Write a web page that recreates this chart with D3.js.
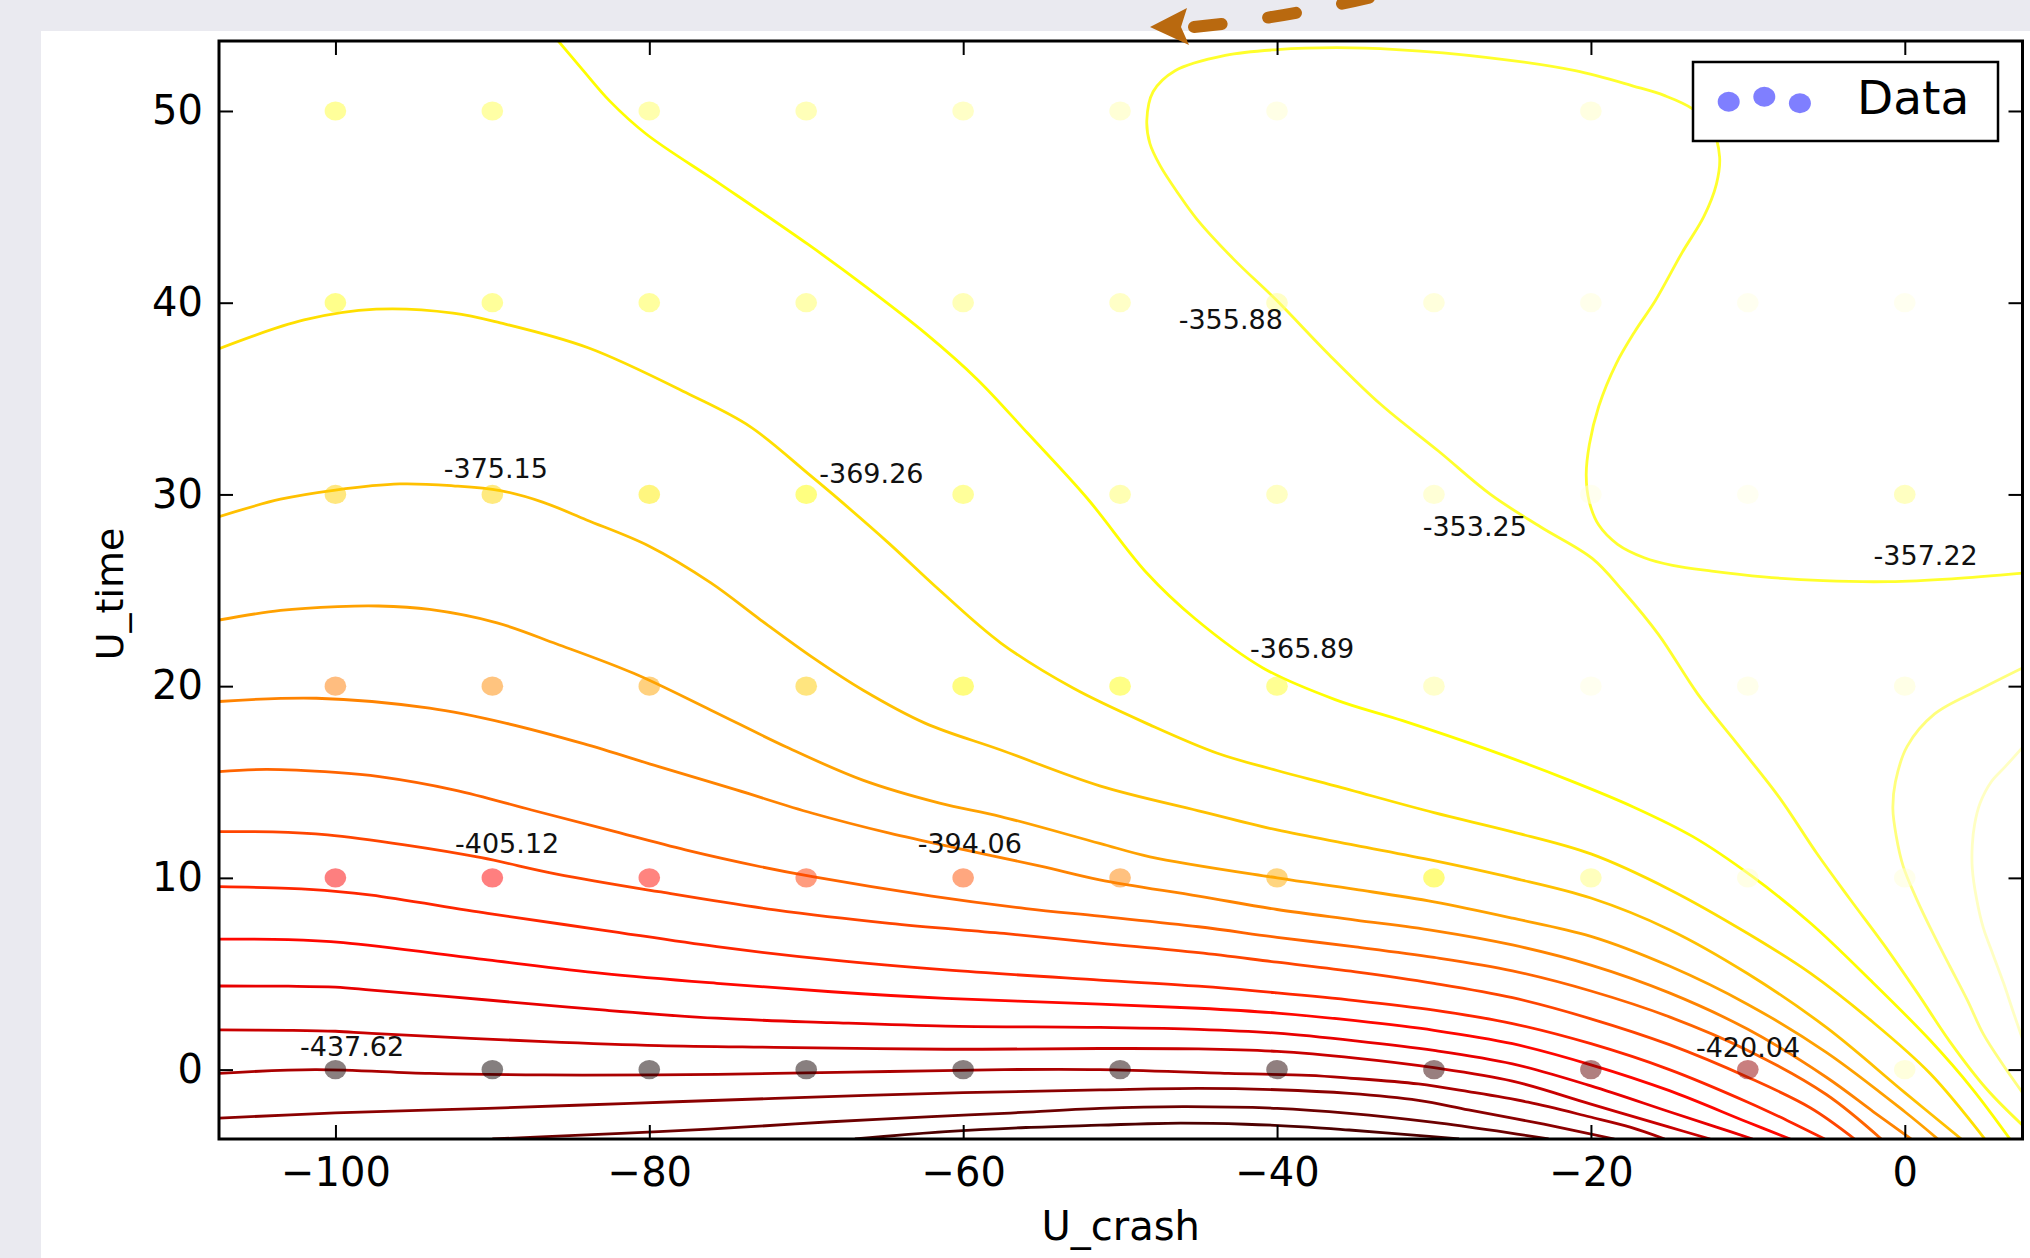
<!DOCTYPE html>
<html><head><meta charset="utf-8">
<script src="https://cdn.jsdelivr.net/npm/d3@7"></script>
<style>body{margin:0;background:#eaeaf0;} svg{display:block}</style>
</head><body><svg id="chart" width="2030" height="1258"></svg>
<script>
// ---------- data ----------
const uCrash = [-100,-90,-80,-70,-60,-50,-40,-30,-20,-10,0];
const uTime = [0,10,20,30,40,50];
const z0  = [-437.62,-439.2,-438.8,-438.4,-438.0,-437.4,-436.0,-433.6,-427.0,-420.04,-352.0];
const z10 = [-405.5,-405.12,-403.7,-397.1,-394.06,-386.8,-381.2,-370.0,-357.9,-350.4,-349.4];
const z20 = [-387.8,-385.9,-382.2,-376.6,-370.0,-368.1,-365.89,-355.1,-348.5,-349.4,-350.4];
const z30 = [-376.0,-375.15,-372.0,-369.26,-364.4,-359.9,-356.9,-353.25,-348.5,-348.0,-357.22];
const z40 = [-367.2,-364.4,-363.5,-360.7,-358.8,-356.0,-355.88,-352.2,-349.4,-348.5,-348.5];
const z50 = [-364.4,-362.5,-360.7,-358.8,-356.0,-353.2,-350.4,-345.7,-351.3,-348.5,-348.5];
const zRows = [z0,z10,z20,z30,z40,z50];

const xTicks = [-100,-80,-60,-40,-20,0];
const yTicks = [0,10,20,30,40,50];

const labelValues = ["-437.62","-420.04","-405.12","-394.06","-375.15","-369.26","-365.89","-355.88","-353.25","-357.22"];
const labelX = [-98.94,-9.99,-89.06,-59.58,-89.78,-65.85,-38.4,-42.95,-27.4,1.33];
const labelY = [1.2,1.15,11.8,11.8,31.37,31.12,21.98,39.14,28.34,26.82];

// contour levels (estimated) and traced contour lines [U_crash, U_time]
const levels = [-429.85,-425.55,-421.25,-416.95,-412.65,-408.35,-404.04,-399.74,-395.44,-391.14,-386.84,-382.54,-378.24,-373.94,-369.64,-365.34,-357.86,-351.31];

const L0 = [[-66.9,-3.62],[-61.1,-3.24],[-56,-3.02],[-51.3,-2.9],[-47,-2.8],[-42,-2.85],[-38,-3.0],[-35.4,-3.15],[-31.5,-3.4],[-28.4,-3.62]];
const L1 = [[-90,-3.62],[-84,-3.4],[-79.4,-3.24],[-73,-2.95],[-68.4,-2.72],[-62,-2.45],[-57.4,-2.28],[-51.3,-2.02],[-46,-1.93],[-40,-2.02],[-35.4,-2.28],[-30,-2.75],[-26,-3.2],[-22.7,-3.62]];
const L2 = [[-107.42,-2.53],[-100,-2.26],[-90.3,-2.02],[-81.2,-1.76],[-72,-1.5],[-60,-1.2],[-51.3,-1.06],[-45,-0.98],[-40,-1.05],[-35.4,-1.24],[-31,-1.6],[-27.8,-2.1],[-23,-2.85],[-18.5,-3.62]];
const L3 = [[-107.42,-0.2],[-101.3,0.0],[-94,-0.2],[-86.7,-0.28],[-79.4,-0.28],[-72,-0.2],[-64.7,-0.1],[-57.4,0],[-51.3,0.0],[-43.1,-0.2],[-38,-0.3],[-35.4,-0.44],[-31,-0.75],[-27.8,-1.15],[-24,-1.7],[-20.1,-2.46],[-17.5,-3.0],[-15.3,-3.62]];
const L4 = [[-107.42,2.07],[-103,2.05],[-100,2.0],[-97.7,1.89],[-86.7,1.46],[-79.4,1.25],[-72,1.16],[-61.1,1.06],[-51.3,1.1],[-45,1.08],[-40,0.95],[-35,0.6],[-30,0.1],[-25,-0.6],[-20,-1.8],[-15,-3.0],[-12.4,-3.62]];
const L5 = [[-107.42,4.36],[-103,4.35],[-100,4.3],[-97.7,4.15],[-90.3,3.63],[-83,3.11],[-75.7,2.68],[-68.4,2.45],[-61.1,2.27],[-51.3,2.2],[-45,2.1],[-40,1.9],[-35,1.5],[-30,1.0],[-25,0.3],[-20,-0.85],[-15,-2.2],[-12,-3.0],[-9.7,-3.62]];
const L6 = [[-107.42,6.8],[-103,6.78],[-99.5,6.62],[-90.3,5.72],[-83,5.02],[-75.7,4.5],[-68.4,4.06],[-61.1,3.72],[-51.3,3.42],[-45,3.2],[-40,2.95],[-35,2.55],[-30,2.05],[-25,1.35],[-20,0.25],[-15,-1.1],[-10,-2.75],[-7.3,-3.62]];
const L7 = [[-107.42,9.54],[-103,9.45],[-100,9.3],[-97.7,9.1],[-90.3,8.15],[-83,7.28],[-75.7,6.41],[-68.4,5.72],[-61.1,5.2],[-51.3,4.67],[-45,4.35],[-40,4.0],[-35,3.6],[-30,3.1],[-25,2.4],[-20,1.35],[-15,0.0],[-10,-1.7],[-7.5,-2.65],[-5.1,-3.62]];
const L8 = [[-107.42,12.41],[-104,12.4],[-100.5,12.24],[-95.6,11.72],[-90.7,11.05],[-85.9,10.2],[-79.4,9.28],[-72,8.33],[-64.7,7.63],[-57.4,7.1],[-51.3,6.6],[-45,6.1],[-40,5.6],[-35,5.1],[-30,4.5],[-25,3.75],[-20,2.65],[-15,1.3],[-10,-0.4],[-6,-2.0],[-3.2,-3.62]];
const L9 = [[-107.42,15.54],[-104.4,15.66],[-100,15.5],[-97.2,15.28],[-92.4,14.58],[-87.5,13.54],[-82.6,12.5],[-77.7,11.46],[-72.9,10.58],[-69.6,10.06],[-62,9.05],[-56,8.4],[-51.3,8.0],[-45,7.45],[-40,6.9],[-35,6.4],[-30,5.85],[-25,5.15],[-20,4.1],[-15,2.75],[-10,1.0],[-5,-1.3],[-1.5,-3.62]];
const L10 = [[-107.42,19.2],[-101.2,19.37],[-94,18.85],[-89.1,18.06],[-84.2,17.0],[-79.4,15.8],[-74.5,14.6],[-69.6,13.37],[-64.7,12.33],[-59.9,11.46],[-55,10.6],[-51.3,9.9],[-45,9.05],[-40,8.35],[-35,7.8],[-30,7.25],[-25,6.5],[-20,5.45],[-15,4.0],[-10,2.1],[-5,-0.4],[-2,-2.2],[0.4,-3.62]];
const L11 = [[-107.42,23.45],[-103.5,23.95],[-99.85,24.15],[-97.25,24.18],[-94.0,24.0],[-89.7,23.3],[-85.9,22.2],[-81.0,20.67],[-76.1,18.76],[-71.3,16.84],[-66.4,15.1],[-61.5,13.9],[-57.6,13.2],[-51.3,11.8],[-48.1,11.1],[-40,10.0],[-35,9.4],[-30,8.75],[-25,7.9],[-20,6.95],[-15,5.4],[-10,3.4],[-5,0.9],[0,-2.2],[2.1,-3.62]];
const L12 = [[-107.42,28.84],[-103.5,29.75],[-100,30.23],[-95.9,30.55],[-92.5,30.45],[-89.5,30.2],[-86.8,29.6],[-84,28.67],[-80.0,27.3],[-76.1,25.4],[-72.9,23.45],[-69.6,21.5],[-66.4,19.8],[-62.4,18.06],[-57.6,16.67],[-51.3,14.8],[-45,13.5],[-40,12.5],[-35,11.7],[-30,10.9],[-25,10.0],[-20,8.95],[-15,7.3],[-10,5.0],[-5,2.2],[0,-1.2],[3.6,-3.62]];
const L13 = [[-107.42,37.6],[-102,39.1],[-97.4,39.66],[-92.5,39.46],[-89.5,38.95],[-83.9,37.65],[-77.4,35.2],[-73.6,33.55],[-69.9,31.1],[-68.3,30.0],[-64.8,27.5],[-61.5,25.0],[-57.6,22.25],[-53,19.9],[-48.1,17.98],[-43.8,16.5],[-40,15.6],[-36.3,14.8],[-30,13.4],[-25,12.4],[-20,11.25],[-15,9.4],[-10,7.1],[-6.0,5.02],[-2.2,2.59],[1.6,-0.19],[5.1,-3.62]];
const L14 = [[-85.8,53.65],[-84.3,52.2],[-82.5,50.5],[-80.2,48.8],[-75.5,46.2],[-69.9,43.05],[-66.15,40.8],[-62.4,38.4],[-59.1,36.0],[-55.9,33.2],[-52.1,29.8],[-48.3,25.9],[-45.2,23.5],[-40.9,20.95],[-36.3,19.3],[-32,18.2],[-26.6,16.7],[-21.4,15.1],[-17.3,13.7],[-13.5,12.15],[-9.7,10.06],[-6.0,7.63],[-2.2,4.67],[1.6,1.54],[4.3,-1.0],[6.7,-3.62]];
const L15 = [[7.5,25.9],[3,25.6],[-1,25.45],[-5.2,25.5],[-9,25.7],[-12.3,26.0],[-14.8,26.3],[-16.6,26.7],[-18.3,27.4],[-19.5,28.4],[-20.1,29.6],[-20.3,31.0],[-20.1,32.6],[-19.5,34.6],[-18.4,36.8],[-17.2,38.5],[-15.9,40.1],[-14.2,42.6],[-12.8,44.5],[-12.0,46.2],[-11.8,47.6],[-12.3,49.1],[-13.5,50.1],[-15.3,50.8],[-17.3,51.3],[-21.0,52.1],[-26.7,52.8],[-32.4,53.2],[-36.2,53.3],[-40.0,53.2],[-43.3,52.9],[-46.5,52.1],[-47.9,51.0],[-48.3,49.5],[-48.1,48.3],[-47.45,47.15],[-46.3,45.7],[-45.1,44.35],[-42.8,42.3],[-40.0,40.1],[-36.7,37.3],[-33.4,34.7],[-29.7,32.25],[-26.4,30.0],[-23.2,28.3],[-19.9,26.65],[-18.0,25.0],[-15.7,22.7],[-13.2,19.6],[-10.55,16.86],[-8.0,14.2],[-5.6,11.27],[-3.5,8.9],[-1.38,6.57],[0.8,4.0],[2.87,1.46],[5.2,-1.0],[7.5,-2.9]];
const L16 = [[7.5,20.95],[4.8,19.84],[1.9,18.55],[0.15,16.86],[-0.6,15.0],[-0.76,13.6],[-0.55,12.2],[-0.1,10.6],[0.74,8.92],[1.8,7.1],[2.87,5.39],[4.0,3.6],[5.0,1.86],[6.3,0.2],[7.5,-1.2]];
const L17 = [[7.5,16.8],[6.4,15.8],[5.5,15.0],[4.8,13.9],[4.45,12.8],[4.3,11.7],[4.3,10.5],[4.57,8.92],[5.0,7.4],[5.63,5.98],[6.3,4.5],[6.9,3.03],[7.5,1.6]];
const contourLines = [L0,L1,L2,L3,L4,L5,L6,L7,L8,L9,L10,L11,L12,L13,L14,L15,L16,L17];

// ---------- drawing ----------
const svg = d3.select("#chart");
const W = 2030, H = 1258;
const plot = {left:219, right:2022.5, top:41, bottom:1139};
const FONT = "DejaVu Sans, Liberation Sans, sans-serif";

const x = d3.scaleLinear().domain([-107.42, 7.5]).range([plot.left, plot.right]);
const y = d3.scaleLinear().domain([-3.62, 53.65]).range([plot.bottom, plot.top]);

// matplotlib "hot" colormap
const hot = d3.scaleLinear().domain([0,0.365,0.746,1])
  .range(["#0b0000","#ff0000","#ffff00","#ffffff"]).clamp(true);
const allZ = zRows.flat();
const norm = d3.scaleLinear().domain(d3.extent(allZ)).range([0,1]);
const colorOf = v => hot(norm(v));

// background panel
svg.append("rect").attr("width",W).attr("height",H).attr("fill","#eaeaf0");
svg.append("rect").attr("x",41).attr("y",31).attr("width",W-41).attr("height",H-31).attr("fill","#ffffff");

svg.append("defs").append("clipPath").attr("id","plotclip")
  .append("rect").attr("x",plot.left).attr("y",plot.top)
  .attr("width",plot.right-plot.left).attr("height",plot.bottom-plot.top);

const gPlot = svg.append("g").attr("clip-path","url(#plotclip)");

const line = d3.line().x(d=>x(d[0])).y(d=>y(d[1])).curve(d3.curveCatmullRom.alpha(0.5));
gPlot.selectAll("path.contour").data(contourLines).join("path")
  .attr("class","contour")
  .attr("d", d=>line(d))
  .attr("fill","none")
  .attr("stroke",(d,i)=>colorOf(levels[i]))
  .attr("stroke-width",2.8)
  .attr("stroke-linejoin","round");

// scatter points
const pts = [];
zRows.forEach((row,j)=>row.forEach((v,i)=>pts.push({u:uCrash[i], t:uTime[j], z:v})));
gPlot.selectAll("ellipse.pt").data(pts).join("ellipse")
  .attr("class","pt")
  .attr("cx",d=>x(d.u)).attr("cy",d=>y(d.t))
  .attr("rx",10.8).attr("ry",9.6)
  .attr("fill",d=>colorOf(d.z)).attr("fill-opacity",0.5);

// value labels
svg.selectAll("text.lab").data(labelValues).join("text")
  .attr("class","lab")
  .attr("x",(d,i)=>x(labelX[i])).attr("y",(d,i)=>y(labelY[i]))
  .attr("dy","0.36em").attr("text-anchor","middle")
  .attr("font-family",FONT).attr("font-size",27).attr("fill","#111")
  .text(d=>d);

// axes
function styleAxis(g){
  g.select(".domain").remove();
  g.selectAll(".tick line").attr("stroke","#000").attr("stroke-width",2);
  g.selectAll(".tick text").attr("font-family",FONT).attr("font-size",40).attr("fill","#000");
}
svg.append("g").attr("transform",`translate(0,${plot.bottom})`)
  .call(d3.axisBottom(x).tickValues(xTicks).tickSize(-14).tickSizeOuter(0).tickPadding(19).tickFormat(d3.format("d")))
  .call(styleAxis);
svg.append("g").attr("transform",`translate(0,${plot.top})`)
  .call(d3.axisTop(x).tickValues(xTicks).tickSize(-14).tickSizeOuter(0).tickFormat(""))
  .call(styleAxis);
svg.append("g").attr("transform",`translate(${plot.left},0)`)
  .call(d3.axisLeft(y).tickValues(yTicks).tickSize(-14).tickSizeOuter(0).tickPadding(16).tickFormat(d3.format("d")))
  .call(styleAxis);
svg.append("g").attr("transform",`translate(${plot.right},0)`)
  .call(d3.axisRight(y).tickValues(yTicks).tickSize(-14).tickSizeOuter(0).tickFormat(""))
  .call(styleAxis);

svg.append("rect").attr("x",plot.left).attr("y",plot.top)
  .attr("width",plot.right-plot.left).attr("height",plot.bottom-plot.top)
  .attr("fill","none").attr("stroke","#000").attr("stroke-width",3);

// axis titles
svg.append("text").attr("x",(plot.left+plot.right)/2).attr("y",1240)
  .attr("text-anchor","middle").attr("font-family",FONT).attr("font-size",40).text("U_crash");
svg.append("text").attr("transform",`translate(123,${(plot.top+plot.bottom)/2 + 4}) rotate(-90)`)
  .attr("text-anchor","middle").attr("font-family",FONT).attr("font-size",38).text("U_time");

// legend
const lg = svg.append("g");
lg.append("rect").attr("x",1693).attr("y",62).attr("width",305).attr("height",79)
  .attr("fill","#fff").attr("stroke","#000").attr("stroke-width",2.5);
const legendDotDX = [0, 35.6, 71.2];
const legendDotDY = [5, 0, 6.6];
lg.selectAll("ellipse").data(legendDotDX).join("ellipse")
  .attr("cx",d=>1728.7+d).attr("cy",(d,i)=>96.7+legendDotDY[i])
  .attr("rx",11).attr("ry",10).attr("fill","#0000ff").attr("fill-opacity",0.5);
lg.append("text").attr("x",1857).attr("y",114).attr("font-family",FONT).attr("font-size",47).text("Data");

// overlaid annotation arrow (screenshot markup)
const ag = svg.append("g");
ag.append("path").attr("d","M1194,27 Q1290,18 1400,-10")
  .attr("fill","none").attr("stroke","#b9690f").attr("stroke-width",12)
  .attr("stroke-linecap","round").attr("stroke-dasharray","28 47");
ag.append("path").attr("d","M1150,27 L1187,8 L1181,27 L1189,45 Z").attr("fill","#b9690f");
</script></body></html>
